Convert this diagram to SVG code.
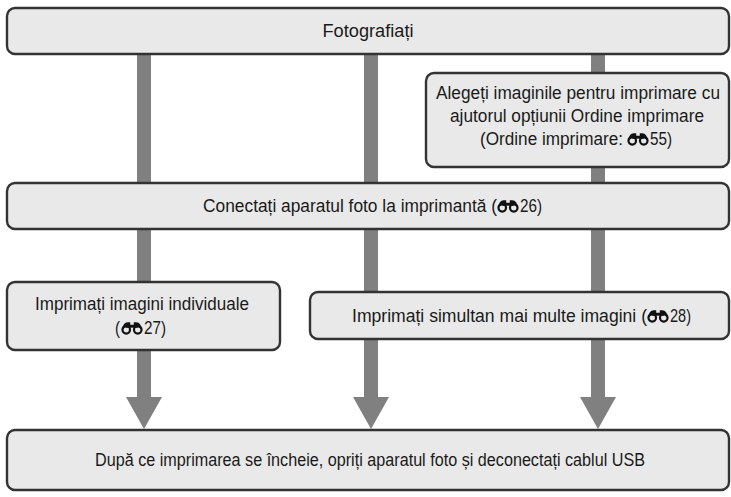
<svg xmlns="http://www.w3.org/2000/svg" xmlns:xlink="http://www.w3.org/1999/xlink" width="731" height="497" viewBox="0 0 731 497">
<style>
.box{fill:#e9e9e9;stroke:#333333;stroke-width:2.4}
.bar{fill:#808080}
.t{font-family:'Liberation Sans','Noto Sans',sans-serif;font-size:17.5px;fill:#1a1a1a}
.c{text-anchor:middle}
</style>
<defs>
<symbol id="bino" viewBox="0 0 21 13">
<circle cx="5" cy="8.2" r="3.6" fill="none" stroke="#111" stroke-width="2.1"/>
<circle cx="16" cy="8.2" r="3.6" fill="none" stroke="#111" stroke-width="2.1"/>
<rect x="5" y="3.4" width="11" height="2.8" fill="#111"/>
<path d="M1.4 8.2 C1.4 4 3.4 1 6.5 1 L8.8 1 L8.8 6 L4 6 Z" fill="#111"/>
<path d="M12.2 6 L12.2 1 L14.5 1 C17.6 1 19.6 4 19.6 8.2 L17 6 Z" fill="#111"/>
</symbol>
</defs>
<g id="connectors">
<rect class="bar" x="137" y="54" width="14" height="345"/>
<rect class="bar" x="364" y="54" width="14" height="345"/>
<rect class="bar" x="591" y="54" width="14" height="345"/>
<polygon class="bar" points="126,397 162,397 144,429"/>
<polygon class="bar" points="353,397 389,397 371,429"/>
<polygon class="bar" points="580,397 616,397 598,429"/>
</g>
<g id="n-foto">
<rect class="box" x="7" y="8" width="722" height="46" rx="8"/>
<text class="t c" x="368" y="37" textLength="91" lengthAdjust="spacingAndGlyphs">Fotografiați</text>
</g>
<g id="n-alegeti">
<rect class="box" x="426" y="73" width="303" height="94" rx="8"/>
<text class="t c" x="578" y="99" textLength="284" lengthAdjust="spacingAndGlyphs">Alegeți imaginile pentru imprimare cu</text>
<text class="t c" x="577" y="122" textLength="254" lengthAdjust="spacingAndGlyphs">ajutorul opțiunii Ordine imprimare</text>
<text class="t" x="480" y="145" textLength="143" lengthAdjust="spacingAndGlyphs">(Ordine imprimare:</text>
<use xlink:href="#bino" x="627" y="132" width="22" height="14"/>
<text class="t" x="650" y="145" textLength="22" lengthAdjust="spacingAndGlyphs">55)</text>
</g>
<g id="n-conectati">
<rect class="box" x="7" y="183" width="722" height="46" rx="8"/>
<text class="t" x="203" y="212" textLength="294" lengthAdjust="spacingAndGlyphs">Conectați aparatul foto la imprimantă (</text>
<use xlink:href="#bino" x="497" y="199" width="22" height="14"/>
<text class="t" x="520" y="212" textLength="22" lengthAdjust="spacingAndGlyphs">26)</text>
</g>
<g id="n-individuale">
<rect class="box" x="7" y="282" width="273" height="68" rx="8"/>
<text class="t c" x="142" y="310" textLength="214" lengthAdjust="spacingAndGlyphs">Imprimați imagini individuale</text>
<text class="t" x="115" y="334" textLength="5" lengthAdjust="spacingAndGlyphs">(</text>
<use xlink:href="#bino" x="121" y="321" width="22" height="14"/>
<text class="t" x="144" y="334" textLength="22" lengthAdjust="spacingAndGlyphs">27)</text>
</g>
<g id="n-simultan">
<rect class="box" x="310" y="292" width="419" height="47" rx="8"/>
<text class="t" x="352" y="322" textLength="295" lengthAdjust="spacingAndGlyphs">Imprimați simultan mai multe imagini (</text>
<use xlink:href="#bino" x="647" y="309" width="22" height="14"/>
<text class="t" x="670" y="322" textLength="21" lengthAdjust="spacingAndGlyphs">28)</text>
</g>
<g id="n-dupa">
<rect class="box" x="7" y="430" width="722" height="60" rx="8"/>
<text class="t c" x="370" y="466" textLength="550" lengthAdjust="spacingAndGlyphs">După ce imprimarea se încheie, opriți aparatul foto și deconectați cablul USB</text>
</g>
</svg>
